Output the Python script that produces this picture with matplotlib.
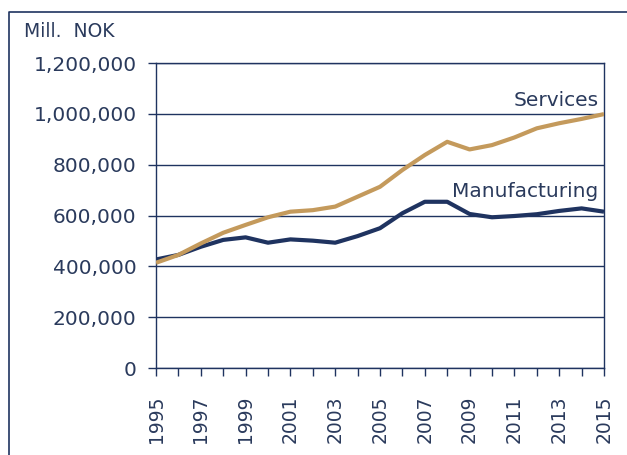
import matplotlib
matplotlib.use("Agg")
import matplotlib.pyplot as plt
from matplotlib.lines import Line2D
from matplotlib.ticker import FuncFormatter, MultipleLocator

years = list(range(1995, 2016))
services = [414000, 445000, 490000, 532000, 563000, 593000, 615000, 621000,
            635000, 674000, 713000, 779000, 838000, 890000, 860000, 877000,
            907000, 943000, 963000, 980000, 999000]
manufacturing = [427000, 445000, 477000, 504000, 514000, 493000, 506000, 501000,
                 493000, 519000, 550000, 609000, 654000, 654000, 606000, 593000,
                 598000, 605000, 618000, 628000, 615000]
year_labels = [str(y) for y in range(1995, 2016, 2)]

navy = "#1F3360"
text_col = "#2A3A5C"
gold = "#C49A5C"

plt.rcParams["font.family"] = ["DejaVu Sans"]

fig = plt.figure(figsize=(6.27, 4.55), dpi=100)
W, H = 627, 455
ax = fig.add_axes([156 / W, 1 - 368 / H, (604 - 156) / W, (368 - 63) / H])

ax.plot(years, manufacturing, color=navy, lw=3.0, solid_capstyle="butt", zorder=3)
ax.plot(years, services, color=gold, lw=3.0, solid_capstyle="butt", zorder=4)

ax.set_xlim(1995, 2015)
ax.set_ylim(0, 1200000)
ax.yaxis.set_major_locator(MultipleLocator(200000))
ax.yaxis.set_major_formatter(FuncFormatter(lambda v, p: f"{int(v):,}"))
ax.set_xticks(years)
ax.set_xticklabels([str(y) if str(y) in year_labels else "" for y in years],
                   rotation=90)

ax.grid(axis="y", color=navy, lw=1.0)
ax.set_axisbelow(True)
for s in ax.spines.values():
    s.set_color(navy)
    s.set_linewidth(1.0)
ax.tick_params(axis="both", colors=navy, labelcolor=text_col, direction="out",
               length=6, width=1.0)
ax.tick_params(axis="y", labelsize=14.5, pad=8)
ax.tick_params(axis="x", labelsize=13.5, pad=14)

ax.text(2014.75, 1017000, "Services", ha="right", va="bottom",
        fontsize=14.5, color=text_col)
ax.text(2014.75, 658000, "Manufacturing", ha="right", va="bottom",
        fontsize=14.5, color=text_col)

fig.text(24 / W, 1 - 37 / H, "Mill.  NOK", fontsize=13.5, color=text_col,
         ha="left", va="baseline")

# outer frame of the panel
fig.add_artist(Line2D([9 / W, 9 / W, 1.0], [0.0, 1 - 12 / H, 1 - 12 / H],
                      transform=fig.transFigure, color=navy, lw=1.2))

fig.savefig("out.png", dpi=100)
